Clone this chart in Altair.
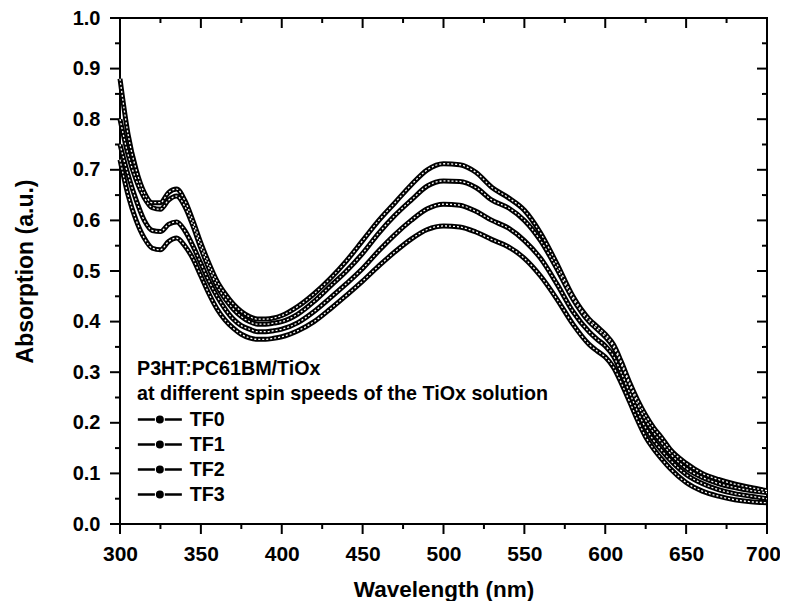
import altair as alt
import pandas as pd

wavelength = [300, 305, 310, 315, 320, 325, 330, 335, 340, 345, 350, 355, 360, 365, 370, 375,
              380, 385, 390, 395, 400, 410, 420, 430, 440, 450, 460, 470, 480, 490, 500, 510,
              520, 530, 540, 550, 560, 570, 580, 590, 595, 600, 605, 610, 615, 620, 625, 630,
              635, 640, 650, 660, 670, 680, 690, 700]

tf0 = [0.88, 0.77, 0.70, 0.655, 0.635, 0.635, 0.655, 0.662, 0.64, 0.60, 0.555, 0.515, 0.48, 0.455, 0.435, 0.42,
       0.41, 0.405, 0.405, 0.407, 0.412, 0.43, 0.455, 0.485, 0.52, 0.56, 0.60, 0.635, 0.67, 0.70, 0.712, 0.71,
       0.695, 0.665, 0.645, 0.62, 0.575, 0.515, 0.45, 0.405, 0.39, 0.375, 0.355, 0.32, 0.28, 0.245, 0.215, 0.19,
       0.17, 0.148, 0.12, 0.10, 0.088, 0.079, 0.072, 0.066]

tf1 = [0.80, 0.73, 0.68, 0.645, 0.625, 0.622, 0.64, 0.648, 0.628, 0.59, 0.545, 0.505, 0.47, 0.445, 0.425, 0.41,
       0.40, 0.395, 0.395, 0.397, 0.40, 0.415, 0.44, 0.47, 0.50, 0.535, 0.575, 0.61, 0.64, 0.668, 0.678, 0.677,
       0.665, 0.64, 0.625, 0.60, 0.56, 0.505, 0.445, 0.40, 0.385, 0.37, 0.35, 0.315, 0.275, 0.237, 0.205, 0.18,
       0.16, 0.14, 0.11, 0.092, 0.08, 0.072, 0.066, 0.062]

tf2 = [0.75, 0.69, 0.64, 0.60, 0.58, 0.578, 0.592, 0.597, 0.58, 0.55, 0.515, 0.48, 0.45, 0.425, 0.405, 0.392,
       0.385, 0.38, 0.38, 0.382, 0.385, 0.398, 0.42, 0.447, 0.475, 0.505, 0.54, 0.572, 0.60, 0.623, 0.632, 0.63,
       0.618, 0.60, 0.585, 0.56, 0.525, 0.475, 0.42, 0.38, 0.365, 0.352, 0.332, 0.298, 0.26, 0.222, 0.19, 0.165,
       0.145, 0.127, 0.098, 0.08, 0.068, 0.06, 0.055, 0.05]

tf3 = [0.72, 0.65, 0.60, 0.565, 0.545, 0.542, 0.558, 0.565, 0.55, 0.525, 0.49, 0.455, 0.425, 0.403, 0.387, 0.375,
       0.368, 0.365, 0.365, 0.367, 0.37, 0.382, 0.40, 0.425, 0.452, 0.48, 0.51, 0.538, 0.563, 0.582, 0.589, 0.587,
       0.577, 0.562, 0.548, 0.525, 0.49, 0.445, 0.395, 0.355, 0.342, 0.33, 0.31, 0.278, 0.242, 0.205, 0.172, 0.148,
       0.128, 0.11, 0.082, 0.065, 0.055, 0.048, 0.044, 0.042]

series_names = ["TF0", "TF1", "TF2", "TF3"]
legend_title = ["P3HT:PC61BM/TiOx", "at different spin speeds of the TiOx solution"]
x_title = "Wavelength (nm)"
y_title = "Absorption (a.u.)"

x_major = [300, 350, 400, 450, 500, 550, 600, 650, 700]
x_minor = [325, 375, 425, 475, 525, 575, 625, 675]
y_major = [0.0, 0.1, 0.2, 0.3, 0.4, 0.5, 0.6, 0.7, 0.8, 0.9, 1.0]
y_minor = [0.05, 0.15, 0.25, 0.35, 0.45, 0.55, 0.65, 0.75, 0.85, 0.95]

rows = []
for name, vals in zip(series_names, [tf0, tf1, tf2, tf3]):
    for w, v in zip(wavelength, vals):
        rows.append({"wavelength": w, "absorption": v, "series": name})
df = pd.DataFrame(rows)

W, H = 647, 506
FONT = "Liberation Sans"
MAJ, MIN = 10, 5

xscale = alt.Scale(domain=[300, 700], nice=False, zero=False)
yscale = alt.Scale(domain=[0, 1], nice=False, zero=False)

x_axis = alt.Axis(
    values=x_major, format="d", ticks=False, domain=False, grid=False,
    labelFont=FONT, labelFontSize=21, labelFontWeight="bold", labelColor="black",
    labelPadding=MAJ + 9, labelFlush=False,
    labelOffset={"condition": {"test": "datum.value == 700", "value": -4}, "value": 0},
    titleFont=FONT, titleFontSize=22.5, titleFontWeight="bold", titleColor="black",
    titleX=W / 2, titleY=72, titleBaseline="alphabetic", titleAlign="center")
y_axis = alt.Axis(
    values=y_major, format=".1f", ticks=False, domain=False, grid=False,
    labelFont=FONT, labelFontSize=20, labelFontWeight="bold", labelColor="black",
    labelPadding=MAJ + 10, labelFlush=False,
    titleFont=FONT, titleFontSize=23, titleFontWeight="bold", titleColor="black",
    titleX=-88, titleY=H / 2, titleBaseline="alphabetic", titleAlign="center")


def X(field):
    return alt.X(field, scale=xscale, axis=x_axis, title=x_title)


def Y(field):
    return alt.Y(field, scale=yscale, axis=y_axis, title=y_title)


base = alt.Chart(df)


def xticks(values, y0, y1):
    d = pd.DataFrame({"v": values})
    return alt.Chart(d).mark_rule(color="black", strokeWidth=2).encode(
        x=X("v:Q"), y=alt.value(y0), y2=alt.value(y1))


def yticks(values, x0, x1):
    d = pd.DataFrame({"v": values})
    return alt.Chart(d).mark_rule(color="black", strokeWidth=2).encode(
        y=Y("v:Q"), x=alt.value(x0), x2=alt.value(x1))


tick_layers = [
    xticks(x_major, H, H + MAJ), xticks(x_minor, H, H + MIN),
    xticks(x_major, 0, MAJ), xticks(x_minor, 0, MIN),
    yticks(y_major, -MAJ, 0), yticks(y_minor, -MIN, 0),
    yticks(y_major, W - MAJ, W), yticks(y_minor, W - MIN, W),
]

sym_path = ("M-4,0L-0.9,0M0.9,0L4,0"
            "M-0.5,0A0.5,0.5,0,1,0,0.5,0A0.5,0.5,0,1,0,-0.5,0Z")

black_lines = base.mark_line(strokeWidth=5, interpolate="monotone").encode(
    x=X("wavelength:Q"),
    y=Y("absorption:Q"),
    color=alt.Color(
        "series:N",
        scale=alt.Scale(domain=series_names, range=["black", "black", "black", "black"]),
        legend=alt.Legend(
            orient="none", legendX=17, legendY=341, padding=0,
            title=legend_title, titleFont=FONT, titleFontSize=19.7, titleFontWeight="bold",
            titleColor="black", titleLineHeight=25, titlePadding=6, titleLimit=700,
            labelFont=FONT, labelFontSize=19.7, labelFontWeight="bold", labelColor="black",
            symbolType=sym_path, symbolSize=121, symbolStrokeWidth=2.5,
            symbolStrokeColor="black", symbolFillColor="black",
            symbolOffset=13, labelOffset=20, rowPadding=4,
        ),
    ),
)

white_lines = base.mark_line(strokeWidth=1.3, color="white", strokeDash=[2, 2],
                             interpolate="monotone").encode(
    x=X("wavelength:Q"),
    y=Y("absorption:Q"),
    detail="series:N",
)

chart = alt.layer(*tick_layers, black_lines, white_lines).properties(
    width=W, height=H,
    autosize=alt.AutoSizeParams(type="none"),
    padding={"left": 112, "top": 10, "right": 13, "bottom": 77},
).configure_view(
    stroke="black", strokeWidth=2
)

chart.save("out.html", embed_options={"renderer": "svg", "actions": False})
